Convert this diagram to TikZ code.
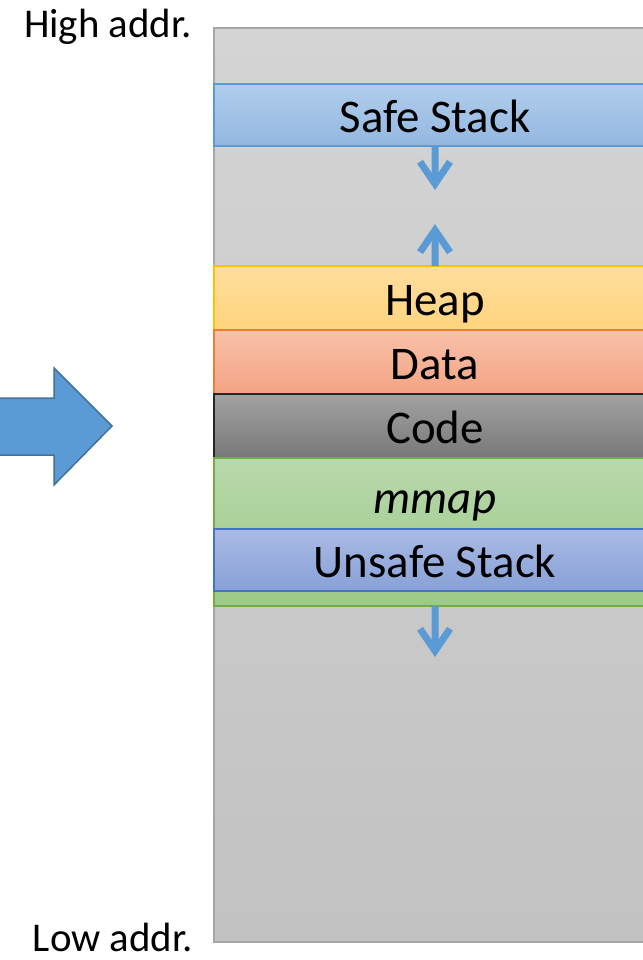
\documentclass[tikz,border=0pt]{standalone}
\usepackage{fontspec}
\setmainfont{Carlito}
\usetikzlibrary{arrows.meta}

% segment colours (top / bottom of the gradient, outline)
\definecolor{memT}{HTML}{D4D4D4}
\definecolor{memB}{HTML}{C2C2C2}
\definecolor{memL}{HTML}{A6A6A6}
\definecolor{safeT}{HTML}{B0CDEB}
\definecolor{safeB}{HTML}{94B7E1}
\definecolor{safeL}{HTML}{5B9BD5}
\definecolor{heapT}{HTML}{FFDD9C}
\definecolor{heapB}{HTML}{FFD47E}
\definecolor{heapL}{HTML}{FFC000}
\definecolor{dataT}{HTML}{F8C1AA}
\definecolor{dataB}{HTML}{F4A383}
\definecolor{dataL}{HTML}{ED7D31}
\definecolor{codeT}{HTML}{A2A2A2}
\definecolor{codeB}{HTML}{787878}
\definecolor{codeL}{HTML}{262626}
\definecolor{mmapT}{HTML}{B8D8AB}
\definecolor{mmapB}{HTML}{9DC988}
\definecolor{mmapL}{HTML}{70AD47}
\definecolor{unsT}{HTML}{AABAE4}
\definecolor{unsB}{HTML}{88A1D7}
\definecolor{unsL}{HTML}{4472C4}
\definecolor{flowC}{HTML}{5B9BD5}
\definecolor{bigL}{HTML}{41719C}

\tikzset{
  seg/.style={draw, line width=1.5bp, anchor=north west, inner sep=0pt, outer sep=0pt,
    minimum width=442bp, text height=35bp, text depth=0bp,
    font=\fontsize{47}{56}\selectfont, text=black},
  side/.style={inner sep=0pt, font=\fontsize{41}{49}\selectfont, text=black},
  flow/.style={draw=flowC, line width=7bp,
    -{Straight Barb[length=22bp, width=30bp]}},
}

\begin{document}
\begin{tikzpicture}[x=1bp, y=-1bp]
\useasboundingbox (0,0) rectangle (643,960);

% address space
\node[seg, draw=memL, top color=memT, bottom color=memB, minimum height=914bp]
  (mem) at (214,28) {};

% segments
\node[seg, draw=safeL, top color=safeT, bottom color=safeB, minimum height=62bp]
  (safe) at (214,84) {Safe Stack};
\node[seg, draw=heapL, top color=heapT, bottom color=heapB, minimum height=64bp]
  (heap) at (214,266) {Heap};
\node[seg, draw=dataL, top color=dataT, bottom color=dataB, minimum height=64bp]
  (data) at (214,330) {Data};
\node[seg, draw=codeL, top color=codeT, bottom color=codeB, minimum height=64bp]
  (code) at (214,394) {Code};
\node[seg, draw=mmapL, top color=mmapT, bottom color=mmapB, minimum height=148bp]
  (mmap) at (214,458) {};
\node[anchor=base, inner sep=0pt, font=\fontsize{47}{56}\selectfont\itshape]
  (mmaplabel) at (435,513) {mmap};
\node[seg, draw=unsL, top color=unsT, bottom color=unsB, minimum height=62bp]
  (unsafe) at (214,529) {Unsafe Stack};

% growth directions
\coordinate (safeend) at (435,190);
\coordinate (heapend) at (435,224);
\coordinate (mmapend) at (435,657);
\draw[flow] (safe.south) -- (safeend);
\draw[flow] (heap.north) -- (heapend);
\draw[flow] (mmap.south) -- (mmapend);

% big block arrow
\draw[fill=flowC, draw=bigL, line width=1.5bp]
  (-10,398) -- (54,398) -- (54,368) -- (112,426) -- (54,485) -- (54,455) -- (-10,455) -- cycle;

% address labels
\node[side, anchor=base east] (high) at (192,37) {High addr.};
\node[side, anchor=base east] (low) at (193,951) {Low addr.};
\end{tikzpicture}
\end{document}
